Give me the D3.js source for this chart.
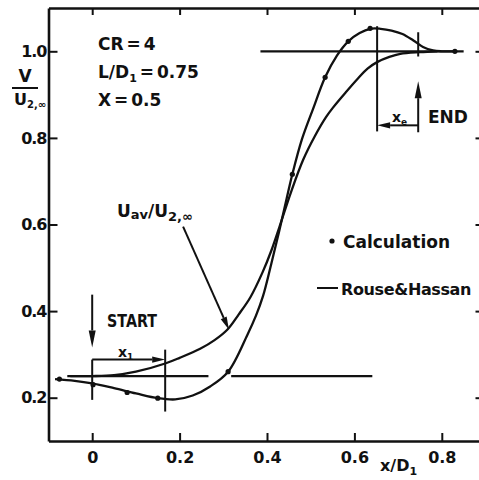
<!DOCTYPE html>
<html><head><meta charset="utf-8">
<script src="https://cdn.jsdelivr.net/npm/d3@7"></script>
<style>
body{margin:0;background:#fff;}
svg{display:block;}
text{font-family:"DejaVu Sans",Lato,sans-serif;font-weight:700;fill:#111;}
</style></head><body>
<svg id="c" width="479" height="480"></svg>
<script>
// ---- data ----
const velX = [-0.085,-0.04,0,0.05,0.1,0.15,0.19,0.23,0.27,0.311,0.355,0.375,0.391,0.41,0.428,0.445,0.458,0.48,0.505,0.533,0.56,0.586,0.612,0.636,0.66,0.685,0.71,0.735,0.757,0.78,0.80,0.83];
const velY = [0.243,0.239,0.233,0.222,0.21,0.199,0.196,0.205,0.226,0.26,0.345,0.39,0.435,0.51,0.585,0.66,0.716,0.797,0.866,0.94,0.99,1.023,1.042,1.052,1.052,1.048,1.04,1.025,1.01,1.002,1.0,1.0];
const uavX = [-0.05,0,0.05,0.1,0.167,0.2,0.247,0.28,0.309,0.335,0.362,0.39,0.41,0.428,0.455,0.483,0.51,0.535,0.551,0.58,0.606,0.63,0.652,0.68,0.705,0.75,0.79];
const uavY = [0.25,0.25,0.252,0.26,0.279,0.292,0.313,0.333,0.357,0.392,0.432,0.49,0.54,0.593,0.675,0.75,0.805,0.848,0.87,0.905,0.935,0.96,0.975,0.987,0.994,0.998,1.0];
const calcX = [-0.075,0.002,0.08,0.15,0.311,0.458,0.533,0.586,0.636,0.83];
const calcY = [0.243,0.23,0.212,0.199,0.26,0.716,0.94,1.023,1.053,1.0];
const xTicks = [0,0.2,0.4,0.6,0.8];
const xTickLabels = ["0","0.2","0.4","0.6","0.8"];
const yTicks = [0.2,0.4,0.6,0.8,1.0];
const yTickLabels = ["0.2","0.4","0.6","0.8","1.0"];
const startLevel = 0.25, endLevel = 1.0;
const x1Start = 0, x1End = 0.167, xeStart = 0.652, xeEnd = 0.746;

// ---- scales ----
const svg = d3.select("#c");
const x = d3.scaleLinear().domain([-0.1,0.9]).range([48.5,485.5]);
const y = d3.scaleLinear().domain([0.1,1.1]).range([441,8]);
const ink = "#111";

// axes
function styleAxis(g){
  g.select(".domain").attr("stroke",ink).attr("stroke-width",2.6);
  g.selectAll(".tick line").attr("stroke",ink).attr("stroke-width",2);
  g.selectAll(".tick text").style("font-size","16px").style("font-family","'DejaVu Sans'").style("font-weight","700").attr("fill",ink);
}
svg.append("g").attr("transform",`translate(0,${y(0.1)})`)
  .call(d3.axisBottom(x).tickValues(xTicks).tickSize(-8).tickSizeOuter(0).tickPadding(11)
    .tickFormat((d,i)=>xTickLabels[i])).call(styleAxis);
svg.append("g").attr("transform",`translate(${x(-0.1)},0)`)
  .call(d3.axisLeft(y).tickValues(yTicks).tickSize(-9).tickSizeOuter(0).tickPadding(2)
    .tickFormat((d,i)=>yTickLabels[i])).call(styleAxis)
  .selectAll(".tick text").style("letter-spacing","-1px");
svg.append("g").attr("transform",`translate(0,${y(1.1)})`)
  .call(d3.axisTop(x).tickValues(xTicks).tickSize(-7).tickSizeOuter(0).tickFormat("")).call(styleAxis);
svg.append("g").attr("transform",`translate(${x(0.9)},0)`)
  .call(d3.axisRight(y).tickValues(yTicks).tickSize(-10).tickSizeOuter(0).tickFormat("")).call(styleAxis);

// reference levels
function hline(v,a,b){svg.append("line").attr("x1",x(a)).attr("x2",x(b)).attr("y1",y(v)).attr("y2",y(v)).attr("stroke",ink).attr("stroke-width",2.2);}
hline(startLevel,-0.057,0.266);
hline(startLevel,0.318,0.641);
hline(endLevel,0.385,0.85);

// curves
const line = d3.line().x(d=>x(d[0])).y(d=>y(d[1])).curve(d3.curveCatmullRom.alpha(0.5));
svg.append("path").datum(velX.map((v,i)=>[v,velY[i]])).attr("d",line)
  .attr("fill","none").attr("stroke",ink).attr("stroke-width",2.3);
svg.append("path").datum(uavX.map((v,i)=>[v,uavY[i]])).attr("d",line)
  .attr("fill","none").attr("stroke",ink).attr("stroke-width",2.3);
svg.selectAll("circle.calc").data(calcX.map((v,i)=>[v,calcY[i]])).join("circle")
  .attr("class","calc").attr("cx",d=>x(d[0])).attr("cy",d=>y(d[1])).attr("r",2.6).attr("fill",ink);

// annotation helpers
function seg(xa,ya,xb,yb,w){svg.append("line").attr("x1",x(xa)).attr("y1",y(ya)).attr("x2",x(xb)).attr("y2",y(yb)).attr("stroke",ink).attr("stroke-width",w||2);}
function arrow(xa,ya,xb,yb,L,W){
  const p0=[x(xa),y(ya)], p1=[x(xb),y(yb)];
  const dx=p1[0]-p0[0], dy=p1[1]-p0[1], n=Math.hypot(dx,dy), ux=dx/n, uy=dy/n;
  const bx=p1[0]-ux*L, by=p1[1]-uy*L;
  svg.append("line").attr("x1",p0[0]).attr("y1",p0[1]).attr("x2",bx).attr("y2",by).attr("stroke",ink).attr("stroke-width",2);
  svg.append("path").attr("d",`M${p1[0]},${p1[1]}L${bx-uy*W},${by+ux*W}L${bx+uy*W},${by-ux*W}Z`).attr("fill",ink);
}
// START
arrow(x1Start,0.438,x1Start,0.316,17,3.5);
seg(x1Start,0.288,x1Start,0.195,2);
arrow(x1Start,0.288,x1End,0.288,13,3.2);
seg(x1End,0.311,x1End,0.168,2);
// END
seg(xeStart,1.058,xeStart,0.815,2);
arrow(xeEnd,0.829,xeStart,0.829,13,3.2);
seg(xeEnd,1.044,xeEnd,0.988,2);
arrow(xeEnd,0.813,xeEnd,0.931,17,3.5);
// U_av label arrow
arrow(0.208,0.595,0.313,0.357,13,3.2);

// texts
function txt(px,py,size,parts,opts){
  opts=opts||{};
  const t=svg.append("text").attr("x",px).attr("y",py).style("font-size",size+"px").attr("text-anchor",opts.anchor||"start");
  if(opts.ws!==undefined) t.style("word-spacing",opts.ws+"px");
  if(opts.ls!==undefined) t.style("letter-spacing",opts.ls+"px");
  if(opts.len){t.attr("textLength",opts.len).attr("lengthAdjust","spacingAndGlyphs");}
  parts.forEach(p=>{
    const s=t.append("tspan").text(p[0]);
    if(p[1]){s.attr("dy",p[1]);}
    if(p[2]){s.style("font-size",p[2]+"px");}
  });
  return t;
}
txt(98,50,17,[["CR = 4"]],{ws:-3});
txt(98,78,17,[["L/D"],["1",4,11],[" = 0.75",-4]],{ws:-3});
txt(98,106,17,[["X = 0.5"]],{ws:-3});
txt(107,327,18,[["START"]],{len:50});
txt(428,123,17,[["END"]]);
txt(118,357,14,[["x"],["1",3,9]]);
txt(392,122,14,[["x"],["e",3,9]]);
txt(117,217,17,[["U"],["av",2,13],["/U",-2],["2,∞",4,13]]);
// legend
svg.append("circle").attr("cx",332).attr("cy",241).attr("r",2.6).attr("fill",ink);
txt(343,248,17,[["Calculation"]]);
svg.append("line").attr("x1",317).attr("x2",338).attr("y1",288).attr("y2",288).attr("stroke",ink).attr("stroke-width",2);
txt(341,295,16,[["Rouse & Hassan"]],{ws:-5,ls:-0.4});
// axis titles
txt(380,471,16,[["x/D"],["1",4,11]]);
txt(25,82,17,[["V"]],{anchor:"middle"});
svg.append("line").attr("x1",12).attr("x2",38).attr("y1",88).attr("y2",88).attr("stroke",ink).attr("stroke-width",2);
txt(14,105,16,[["U"],["2,∞",3,10]]);
</script></body></html>
